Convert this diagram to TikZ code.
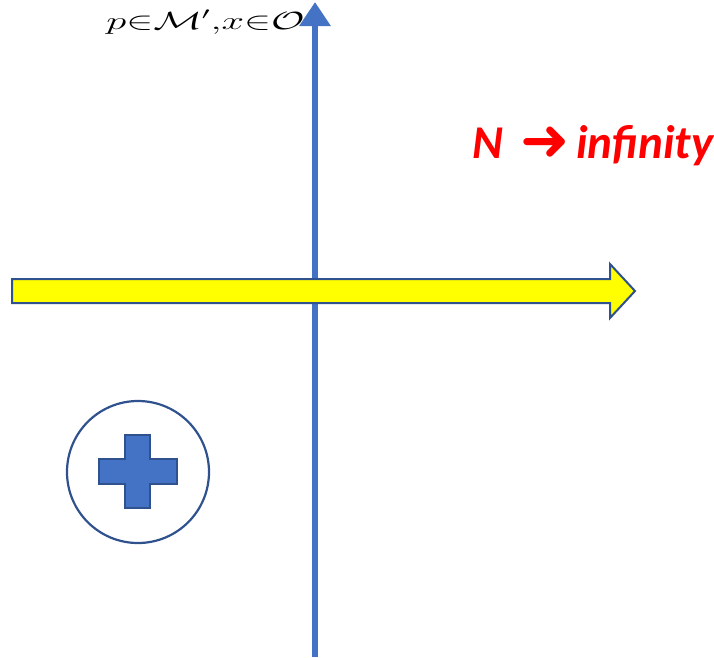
\documentclass[tikz,border=0pt]{standalone}
\usepackage{amsmath, amssymb}
\usepackage{fontspec}
\newfontfamily\calibri{Carlito}
\newfontfamily\symfont{DejaVu Sans}
\usetikzlibrary{positioning, arrows.meta}

\definecolor{axisblue}{HTML}{4472C4}
\definecolor{edgeblue}{HTML}{2F528F}
\definecolor{arrowyellow}{HTML}{FFFF00}
\definecolor{limred}{HTML}{FF0000}

\begin{document}
\begin{tikzpicture}[x=1pt, y=-1pt,
        axis/.style={draw=axisblue, line width=6pt,
                     -{Triangle[length=24pt, width=30pt]}},
        bigarrow/.style={draw=edgeblue, line width=2pt, fill=arrowyellow,
                         line join=miter},
        ring/.style={draw=edgeblue, line width=2.2pt},
        cross/.style={draw=edgeblue, line width=2pt, fill=axisblue},
        label/.style={inner sep=0pt, anchor=base west}]
      \useasboundingbox (0,0) rectangle (714,657);
      % labels
      \node[label, xscale=1.63] (set) at (106,29)
            {\fontsize{27}{30}\selectfont $p{\in}\mathcal{M}'{,}x{\in}\mathcal{O}$};
      \node[label, text=limred] (lim) at (472,158)
            {\fontsize{47}{50}\selectfont\calibri\bfseries\itshape N\hspace{17pt}%
             {\symfont\upshape\raisebox{-2pt}{\scalebox{1.25}{➜}}}\hspace{7pt}infinity};
      % vertical axis
      \coordinate (bot) at (315,657);
      \coordinate (top) at (315,2);
      \draw[axis] (bot) -- (top);
      % yellow arrow
      \draw[bigarrow] (12,279) -- (610,279) -- (610,264) -- (635,291)
            -- (610,318) -- (610,303) -- (12,303) -- cycle;
      % circle with plus
      \draw[ring] (138,472) circle (71);
      \draw[cross] (125,435) -- (150,435) -- (150,459) -- (177,459)
            -- (177,484) -- (150,484) -- (150,508) -- (125,508)
            -- (125,484) -- (99,484) -- (99,459) -- (125,459) -- cycle;
\end{tikzpicture}
\end{document}
